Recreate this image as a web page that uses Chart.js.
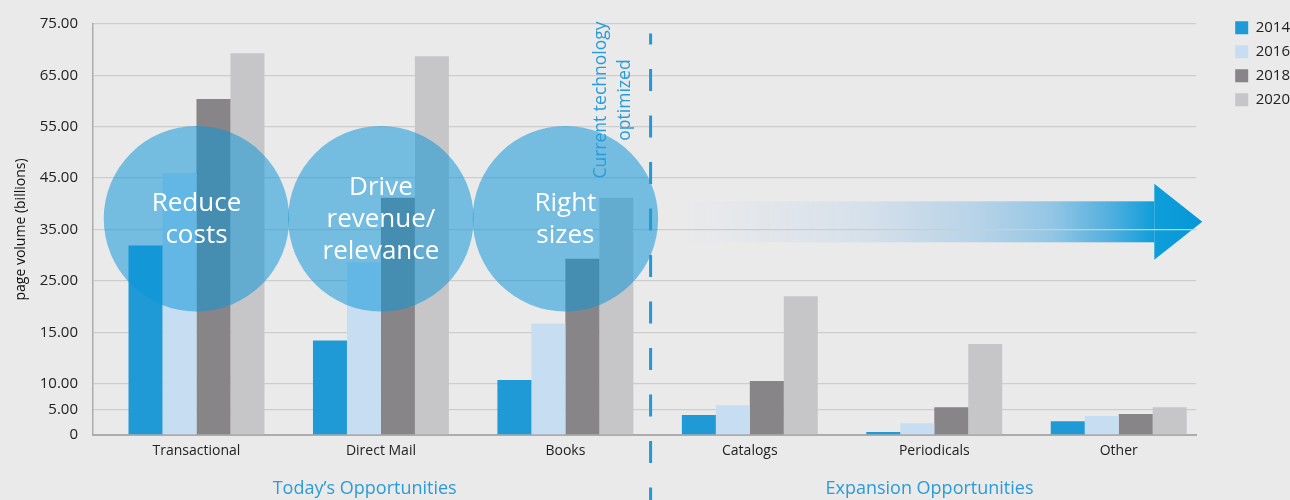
<!DOCTYPE html>
<html>
<head>
<meta charset="utf-8">
<script src="https://cdn.jsdelivr.net/npm/chart.js@4.4.1/dist/chart.umd.min.js"></script>
<style>
  html, body { margin: 0; padding: 0; background: #eaeaea; overflow: hidden; }
  #wrap { width: 1300px; height: 500px; }
</style>
</head>
<body>
<div id="wrap"><canvas id="volumeChart" width="1300" height="500"></canvas></div>
<script>
const categories = ["Transactional", "Direct Mail", "Books", "Catalogs", "Periodicals", "Other"];
const years = ["2014", "2016", "2018", "2020"];
const values2014 = [36.9, 18.4, 10.7, 3.9, 0.6, 2.7];
const values2016 = [51.0, 33.6, 21.7, 5.8, 2.3, 3.7];
const values2018 = [65.4, 46.2, 34.3, 10.5, 5.4, 4.1];
const values2020 = [74.3, 73.7, 46.2, 27.0, 17.7, 5.4];
const barColors = ["#1f9ad7", "#c6ddf2", "#878587", "#c6c6c8"];

// the printed axis is uneven: gridlines sit evenly, labels do not
const tickValues = [0, 5, 10, 20, 30, 40, 50, 60, 70, 80];
const tickLabels = ["0", "5.00", "10.00", "15.00", "25.00", "35.00", "45.00", "55.00", "65.00", "75.00"];

const bubbleLabels = [["Reduce", "costs"], ["Drive", "revenue/", "relevance"], ["Right", "sizes"]];
const groupLabels = ["Today\u2019s Opportunities", "Expansion Opportunities"];
const groupLabelPos = [0.912, 3.974];

const FONT = "'Open Sans', sans-serif";
const BLUE = "#2b9bd8";

const series = [values2014, values2016, values2018, values2020];
const datasets = series.map((vals, i) => ({
  label: years[i],
  data: vals.map((v, j) => ({ x: j, y: v })),
  backgroundColor: barColors[i],
  borderWidth: 0,
  xAxisID: "x",
  yAxisID: "y",
  categoryPercentage: 0.737,
  barPercentage: 1.0
}));

const overlay = {
  id: "overlay",
  beforeDraw(chart) {
    // arrow sits under the gridlines
    const { ctx, scales: { x, y } } = chart;
    const x0 = x.getPixelForValue(2.67);
    const x1 = x.getPixelForValue(5.193);
    const xt = x.getPixelForValue(5.453);
    const yc = y.getPixelForValue(41.5);
    const sh = 20.5, hh = 38;
    const g = ctx.createLinearGradient(x0, 0, x1, 0);
    g.addColorStop(0, "rgba(232,233,236,0.6)");
    g.addColorStop(0.4, "#d3dfea");
    g.addColorStop(0.62, "#b7d3e8");
    g.addColorStop(0.78, "#93c6e4");
    g.addColorStop(0.9, "#55b0df");
    g.addColorStop(1, "#0e9eda");
    ctx.save();
    ctx.fillStyle = g;
    ctx.fillRect(x0, yc - sh, x1 - x0, sh * 2);
    const hg = ctx.createLinearGradient(x1, 0, xt, 0);
    hg.addColorStop(0, "#0e9eda");
    hg.addColorStop(1, "#0597d7");
    ctx.fillStyle = hg;
    ctx.beginPath();
    ctx.moveTo(x1, yc - hh);
    ctx.lineTo(xt, yc);
    ctx.lineTo(x1, yc + hh);
    ctx.closePath();
    ctx.fill();
    ctx.restore();
  },
  afterDatasetsDraw(chart) {
    const { ctx, scales: { x, y } } = chart;
    ctx.save();
    // bubbles
    const cy = y.getPixelForValue(42.1);
    const r = y.getPixelForValue(0) - y.getPixelForValue(18.05);
    bubbleLabels.forEach((lines, i) => {
      const cx = x.getPixelForValue(i);
      ctx.fillStyle = "rgba(9,148,215,0.525)";
      ctx.beginPath();
      ctx.arc(cx, cy, r, 0, Math.PI * 2);
      ctx.fill();
      ctx.fillStyle = "#ffffff";
      ctx.font = "26px " + FONT;
      ctx.textAlign = "center";
      ctx.textBaseline = "middle";
      const lh = 32;
      const top = cy + 1 - (lines.length - 1) * lh / 2;
      lines.forEach((t, k) => ctx.fillText(t, cx, top + k * lh));
    });
    // divider
    const dx = x.getPixelForValue(2.462);
    ctx.strokeStyle = "#1f9ad7";
    ctx.lineWidth = 3;
    ctx.setLineDash([22, 24.5]);
    ctx.lineDashOffset = 11;
    ctx.beginPath();
    ctx.moveTo(dx, y.getPixelForValue(80) + 9.5);
    ctx.lineTo(dx, chart.height);
    ctx.stroke();
    ctx.setLineDash([]);
    // rotated note
    ctx.save();
    ctx.translate(x.getPixelForValue(2.256), y.getPixelForValue(65.2));
    ctx.rotate(-Math.PI / 2);
    ctx.fillStyle = BLUE;
    ctx.font = "17.5px " + FONT;
    ctx.textAlign = "center";
    ctx.textBaseline = "middle";
    ctx.fillText("Current technology", 0, -12);
    ctx.fillText("optimized", 0, 12);
    ctx.restore();
    // group captions
    ctx.fillStyle = BLUE;
    ctx.font = "18px " + FONT;
    ctx.textAlign = "center";
    ctx.textBaseline = "middle";
    groupLabels.forEach((t, i) => ctx.fillText(t, x.getPixelForValue(groupLabelPos[i]), y.bottom + 54));
    ctx.restore();
  }
};

const config = {
  type: "bar",
  data: { datasets: datasets },
  plugins: [overlay],
  options: {
    responsive: false,
    animation: false,
    layout: { padding: 0 },
    plugins: {
      tooltip: { enabled: false },
      legend: {
        position: "right",
        align: "start",
        // empty title only pushes the entries down
        title: { display: true, text: "", font: { size: 1 }, padding: { top: 10, bottom: 0 } },
        labels: { boxWidth: 13, boxHeight: 13, padding: 9, color: "#222", font: { size: 15, family: FONT } }
      }
    },
    scales: {
      x: {
        type: "linear",
        position: "bottom",
        offset: false,
        min: -0.561,
        max: 5.42,
        afterBuildTicks: (s) => { s.ticks = categories.map((c, i) => ({ value: i })); },
        afterFit: (s) => { s.height = 65; },
        ticks: {
          autoSkip: false,
          maxRotation: 0,
          padding: 8,
          color: "#222",
          font: { size: 14, family: FONT },
          callback: (v) => categories[v]
        },
        grid: { display: false, drawTicks: false },
        border: { display: true, color: "#acacac", width: 2 }
      },
      y: {
        type: "linear",
        min: 0,
        max: 80,
        afterBuildTicks: (s) => { s.ticks = tickValues.map((v) => ({ value: v })); },
        afterFit: (s) => { s.width = 93; },
        ticks: {
          padding: 15,
          color: "#222",
          font: { size: 15, family: FONT },
          callback: (v) => tickLabels[tickValues.indexOf(v)]
        },
        grid: { color: "#cdcdcd", lineWidth: 1.3, drawTicks: false },
        border: { display: true, color: "#acacac", width: 1.5 },
        title: {
          display: true,
          text: "page volume (billions)",
          color: "#111",
          font: { size: 14, family: FONT },
          padding: { top: 13, bottom: 0 }
        }
      },
      yRight: {
        type: "linear",
        position: "right",
        afterFit: (s) => { s.width = 30; },
        ticks: { display: false },
        grid: { display: false },
        border: { display: false }
      }
    }
  }
};

const ctxBar = document.getElementById("volumeChart").getContext("2d");
new Chart(ctxBar, config);
</script>
</body>
</html>
